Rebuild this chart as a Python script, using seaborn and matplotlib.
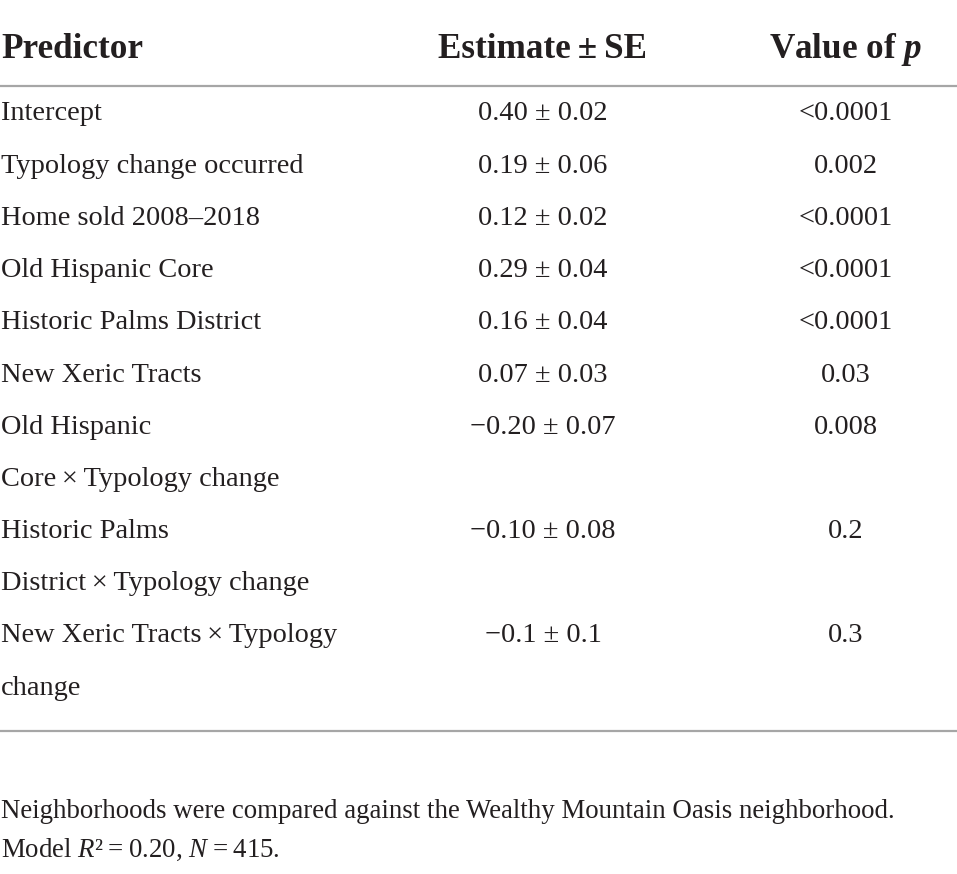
import matplotlib
matplotlib.use("Agg")
import matplotlib.pyplot as plt
import seaborn as sns

# ---- table content ----
header_predictor = "Predictor"
header_estimate = "Estimate\u2009±\u2009SE"
header_p = "Value of $\\mathbfit{p}$"

predictor_lines = [
    ["Intercept"],
    ["Typology change occurred"],
    ["Home sold 2008–2018"],
    ["Old Hispanic Core"],
    ["Historic Palms District"],
    ["New Xeric Tracts"],
    ["Old Hispanic", "Core\u2009×\u2009Typology change"],
    ["Historic Palms", "District\u2009×\u2009Typology change"],
    ["New Xeric Tracts\u2009×\u2009Typology", "change"],
]
estimates = [
    "0.40 ± 0.02", "0.19 ± 0.06", "0.12 ± 0.02", "0.29 ± 0.04", "0.16 ± 0.04",
    "0.07 ± 0.03", "\u22120.20 ± 0.07", "\u22120.10 ± 0.08", "\u22120.1 ± 0.1",
]
p_values = ["<0.0001", "0.002", "<0.0001", "<0.0001", "<0.0001",
            "0.03", "0.008", "0.2", "0.3"]
footnote_1 = "Neighborhoods were compared against the Wealthy Mountain Oasis neighborhood."
footnote_2 = "Model $R$²\u2009=\u20090.20, $N$\u2009=\u2009415."

# ---- style ----
sns.set_theme(style="white")
plt.rcParams["font.family"] = ["Liberation Serif", "DejaVu Serif"]
plt.rcParams["mathtext.fontset"] = "custom"
plt.rcParams["mathtext.rm"] = "Liberation Serif"
plt.rcParams["mathtext.it"] = "Liberation Serif:italic"
plt.rcParams["mathtext.bf"] = "Liberation Serif:bold"
plt.rcParams["mathtext.bfit"] = "Liberation Serif:italic:bold"

W, H = 957, 874
fig = plt.figure(figsize=(W / 100, H / 100), dpi=100)
ax = fig.add_axes([0, 0, 1, 1])
ax.set_xlim(0, W)
ax.set_ylim(H, 0)
ax.axis("off")

txt_color = "#231f20"
line_color = "#a6a6a6"
body_size = 20.4
head_size = 25.3
foot_size = 19.4

x_left = 1
x_est = 543
x_p = 846

# header
hy = 45
ax.text(x_left, hy, header_predictor, ha="left", va="center_baseline", fontsize=head_size,
        fontweight="bold", color=txt_color)
ax.text(x_est, hy, header_estimate, ha="center", va="center_baseline", fontsize=head_size,
        fontweight="bold", color=txt_color)
ax.text(x_p, hy, header_p, ha="center", va="center_baseline", fontsize=head_size,
        fontweight="bold", color=txt_color)

ax.axhline(86, color=line_color, lw=1.6)

# body
y0 = 111
step = 52.2
line_idx = 0
for lines, est, pv in zip(predictor_lines, estimates, p_values):
    y_first = y0 + line_idx * step
    for ln in lines:
        ax.text(x_left, y0 + line_idx * step, ln, ha="left", va="center_baseline",
                fontsize=body_size, color=txt_color)
        line_idx += 1
    ax.text(x_est, y_first, est, ha="center", va="center_baseline", fontsize=body_size,
            color=txt_color)
    ax.text(x_p, y_first, pv, ha="center", va="center_baseline", fontsize=body_size,
            color=txt_color)

ax.axhline(731, color=line_color, lw=1.6)

# footnotes
ax.text(x_left, 808, footnote_1, ha="left", va="center_baseline", fontsize=foot_size,
        color=txt_color)
ax.text(x_left, 847, footnote_2, ha="left", va="center_baseline", fontsize=foot_size,
        color=txt_color)

fig.savefig("out.png", dpi=100, facecolor="white")
